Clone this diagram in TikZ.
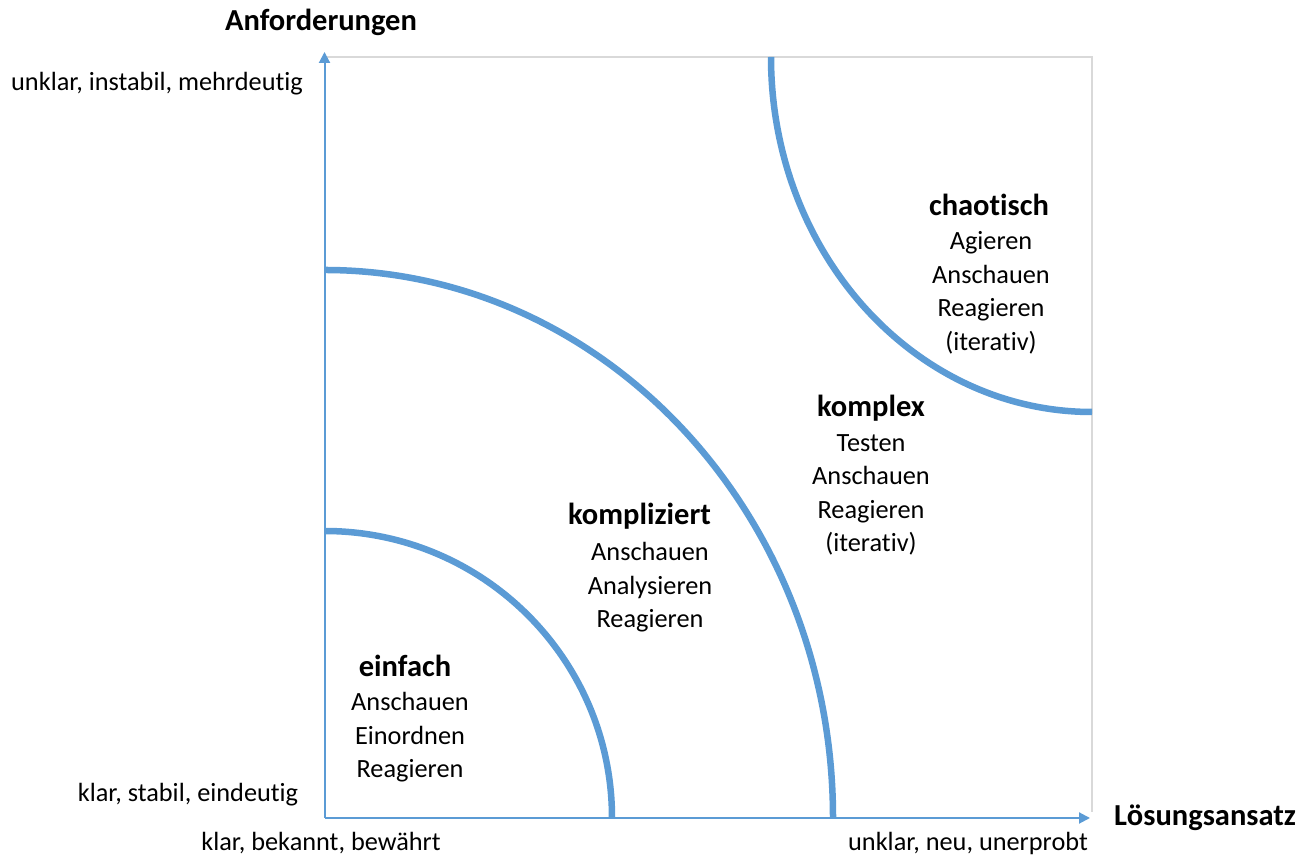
\documentclass[tikz,border=0pt]{standalone}
\usepackage{fontspec}
\setmainfont{Carlito}[Ligatures=NoCommon]
\usetikzlibrary{arrows.meta}
\definecolor{arcblue}{RGB}{91,155,213}
\definecolor{framegray}{RGB}{217,217,217}
\tikzset{
  axis/.style={draw=arcblue, line width=2pt, -{Triangle[length=11pt,width=11pt]}},
  zone/.style={draw=arcblue, line width=6.5pt},
  frame/.style={draw=framegray, line width=2pt},
  head/.style={font=\fontsize{30.5}{36}\selectfont\bfseries, inner sep=0pt},
  body/.style={font=\fontsize{26.3}{33.5}\selectfont, align=center, inner sep=0pt},
  lab/.style={font=\fontsize{26.3}{32}\selectfont, inner sep=0pt},
}
\begin{document}
\begin{tikzpicture}[x=1pt,y=1pt]
\useasboundingbox (0,0) rectangle (1309,861);
\coordinate (O) at (324.5,43);
\coordinate (ytip) at (324.5,809);
\coordinate (xtip) at (1090,43);
\coordinate (TL) at (324.5,804);
\coordinate (TR) at (1092,804);
\coordinate (BR) at (1092,49);
% frame
\draw[frame] (TL) -- (TR) -- (BR);
% zone boundaries
\draw[zone] (324.5,330) arc[start angle=90, end angle=0, x radius=287.5, y radius=287];
\draw[zone] (324.5,591) arc[start angle=90, end angle=0, x radius=508.5, y radius=548];
\draw[zone] (771,804) arc[start angle=180, end angle=270, x radius=321, y radius=355];
% axes
\draw[axis] (O) -- (ytip);
\draw[axis] (O) -- (xtip);
% axis labels
\node[head] (yname) at (321,839) {Anforderungen};
\node[head] (xname) at (1205,43) {Lösungsansatz};
\node[lab] (ytop) at (157,777) {unklar, instabil, mehrdeutig};
\node[lab] (ybot) at (188,66) {klar, stabil, eindeutig};
\node[lab] (xleft) at (321,18) {klar, bekannt, bewährt};
\node[lab] (xright) at (968,18) {unklar, neu, unerprobt};
% zones
\node[head] (h1) at (405,195) {einfach};
\node[body] (b1) at (410,123.5) {Anschauen\\Einordnen\\Reagieren};
\node[head, anchor=west] (h2) at (568,345) {kompliziert};
\node[body] (b2) at (650,273.5) {Anschauen\\Analysieren\\Reagieren};
\node[head] (h3) at (871,453) {komplex};
\node[body] (b3) at (871,366) {Testen\\Anschauen\\Reagieren\\(iterativ)};
\node[head] (h4) at (989,656) {chaotisch};
\node[body] (b4) at (991,568) {Agieren\\Anschauen\\Reagieren\\(iterativ)};
\end{tikzpicture}
\end{document}
